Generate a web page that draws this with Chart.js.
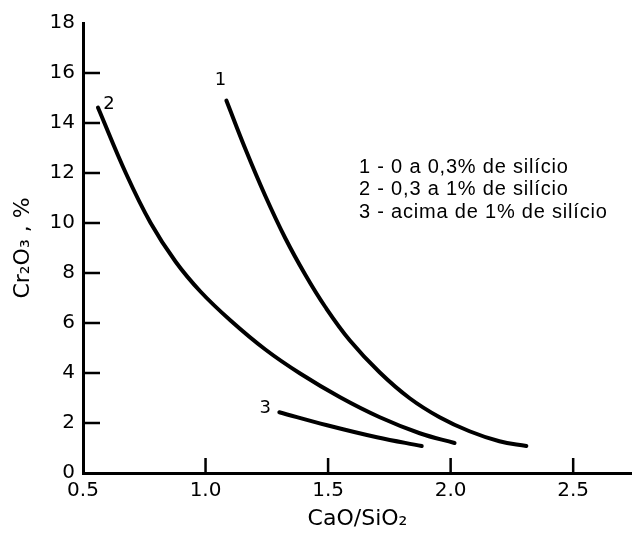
<!DOCTYPE html>
<html>
<head>
<meta charset="utf-8">
<script src="https://cdn.jsdelivr.net/npm/chart.js@4"></script>
<style>
  html, body { margin: 0; padding: 0; background: #fff; }
  #wrap { width: 632px; height: 533px; }
</style>
</head>
<body>
<div id="wrap"><canvas id="cr2o3Chart"></canvas></div>
<script>
// curve 1 - 0 a 0,3% de silicio
const curve1X = [1.085, 1.163, 1.244, 1.325, 1.407, 1.488, 1.589, 1.711, 1.833, 1.955, 2.077, 2.199, 2.309];
const curve1Y = [14.90, 12.95, 11.08, 9.40, 7.93, 6.65, 5.30, 4.02, 2.99, 2.23, 1.67, 1.27, 1.08];
// curve 2 - 0,3 a 1% de silicio
const curve2X = [0.561, 0.675, 0.776, 0.878, 0.980, 1.102, 1.244, 1.386, 1.549, 1.711, 1.874, 2.016];
const curve2Y = [14.62, 11.99, 10.00, 8.45, 7.25, 6.10, 4.94, 3.98, 3.03, 2.23, 1.59, 1.20];
// curve 3 - acima de 1% de silicio
const curve3X = [1.301, 1.496, 1.699, 1.882];
const curve3Y = [2.43, 1.91, 1.43, 1.08];

const xTicks = [0.5, 1.0, 1.5, 2.0, 2.5];
const yTicks = [0, 2, 4, 6, 8, 10, 12, 14, 16, 18];

const curveNames = ['1', '2', '3'];
const curveNameAt = [[1.061, 15.70], [0.606, 14.74], [1.244, 2.59]];
const legendLines = [
  '1 - 0 a 0,3% de silício',
  '2 - 0,3 a 1% de silício',
  '3 - acima de 1% de silício'
];

const toPoints = (xs, ys) => xs.map((x, i) => ({ x, y: ys[i] }));

const lineStyle = {
  showLine: true,
  borderColor: '#000',
  borderWidth: 4,
  borderCapStyle: 'round',
  pointRadius: 0,
  tension: 0.4
};

// tick marks point into the plot, plus the curve numbers and the key text
const annotations = {
  id: 'annotations',
  afterDraw(chart) {
    const { ctx, chartArea, scales: { x, y } } = chart;
    ctx.save();
    ctx.strokeStyle = '#000';
    ctx.lineWidth = 2.5;
    ctx.beginPath();
    xTicks.slice(1).forEach(v => {
      const px = x.getPixelForValue(v);
      ctx.moveTo(px, chartArea.bottom);
      ctx.lineTo(px, chartArea.bottom - 15);
    });
    yTicks.slice(1, -1).forEach(v => {
      const py = y.getPixelForValue(v);
      ctx.moveTo(chartArea.left, py);
      ctx.lineTo(chartArea.left + 17, py);
    });
    ctx.stroke();

    ctx.fillStyle = '#000';
    ctx.font = '18px "DejaVu Sans"';
    ctx.textAlign = 'center';
    ctx.textBaseline = 'middle';
    curveNames.forEach((name, i) => {
      ctx.fillText(name, x.getPixelForValue(curveNameAt[i][0]), y.getPixelForValue(curveNameAt[i][1]));
    });

    ctx.font = '20px "Liberation Sans"';
    ctx.letterSpacing = '0.8px';
    ctx.textAlign = 'left';
    legendLines.forEach((line, i) => {
      ctx.fillText(line, 359, 167 + i * 22.5);
    });
    ctx.restore();
  }
};

const tickFont = { family: 'DejaVu Sans', size: 20 };
const titleFont = { family: 'DejaVu Sans', size: 22 };

new Chart(document.getElementById('cr2o3Chart'), {
  type: 'scatter',
  data: {
    datasets: [
      { data: toPoints(curve1X, curve1Y), ...lineStyle },
      { data: toPoints(curve2X, curve2Y), ...lineStyle },
      { data: toPoints(curve3X, curve3Y), ...lineStyle }
    ]
  },
  options: {
    responsive: true,
    maintainAspectRatio: false,
    animation: false,
    layout: { padding: { top: 23, right: 0, bottom: 0, left: 0 } },
    plugins: {
      legend: { display: false },
      tooltip: { enabled: false }
    },
    scales: {
      x: {
        type: 'linear',
        min: 0.5,
        max: 2.74,
        afterBuildTicks: scale => { scale.ticks = xTicks.map(v => ({ value: v })); },
        afterFit: scale => { scale.height = 60; },
        grid: { display: false, drawTicks: false },
        border: { color: '#000', width: 3 },
        ticks: { color: '#000', font: tickFont, padding: 6, maxRotation: 0, callback: v => v.toFixed(1) },
        title: { display: true, text: 'CaO/SiO₂', color: '#000', font: titleFont, padding: { top: 0, bottom: 1 } }
      },
      y: {
        min: 0,
        max: 18,
        afterBuildTicks: scale => { scale.ticks = yTicks.map(v => ({ value: v })); },
        afterFit: scale => { scale.width = 83; },
        grid: { display: false, drawTicks: false },
        border: { color: '#000', width: 3 },
        ticks: { color: '#000', font: tickFont, padding: 8 },
        title: { display: true, text: 'Cr₂O₃ , %', color: '#000', font: titleFont, padding: { top: 10, bottom: 0 } }
      }
    }
  },
  plugins: [annotations]
});
</script>
</body>
</html>
